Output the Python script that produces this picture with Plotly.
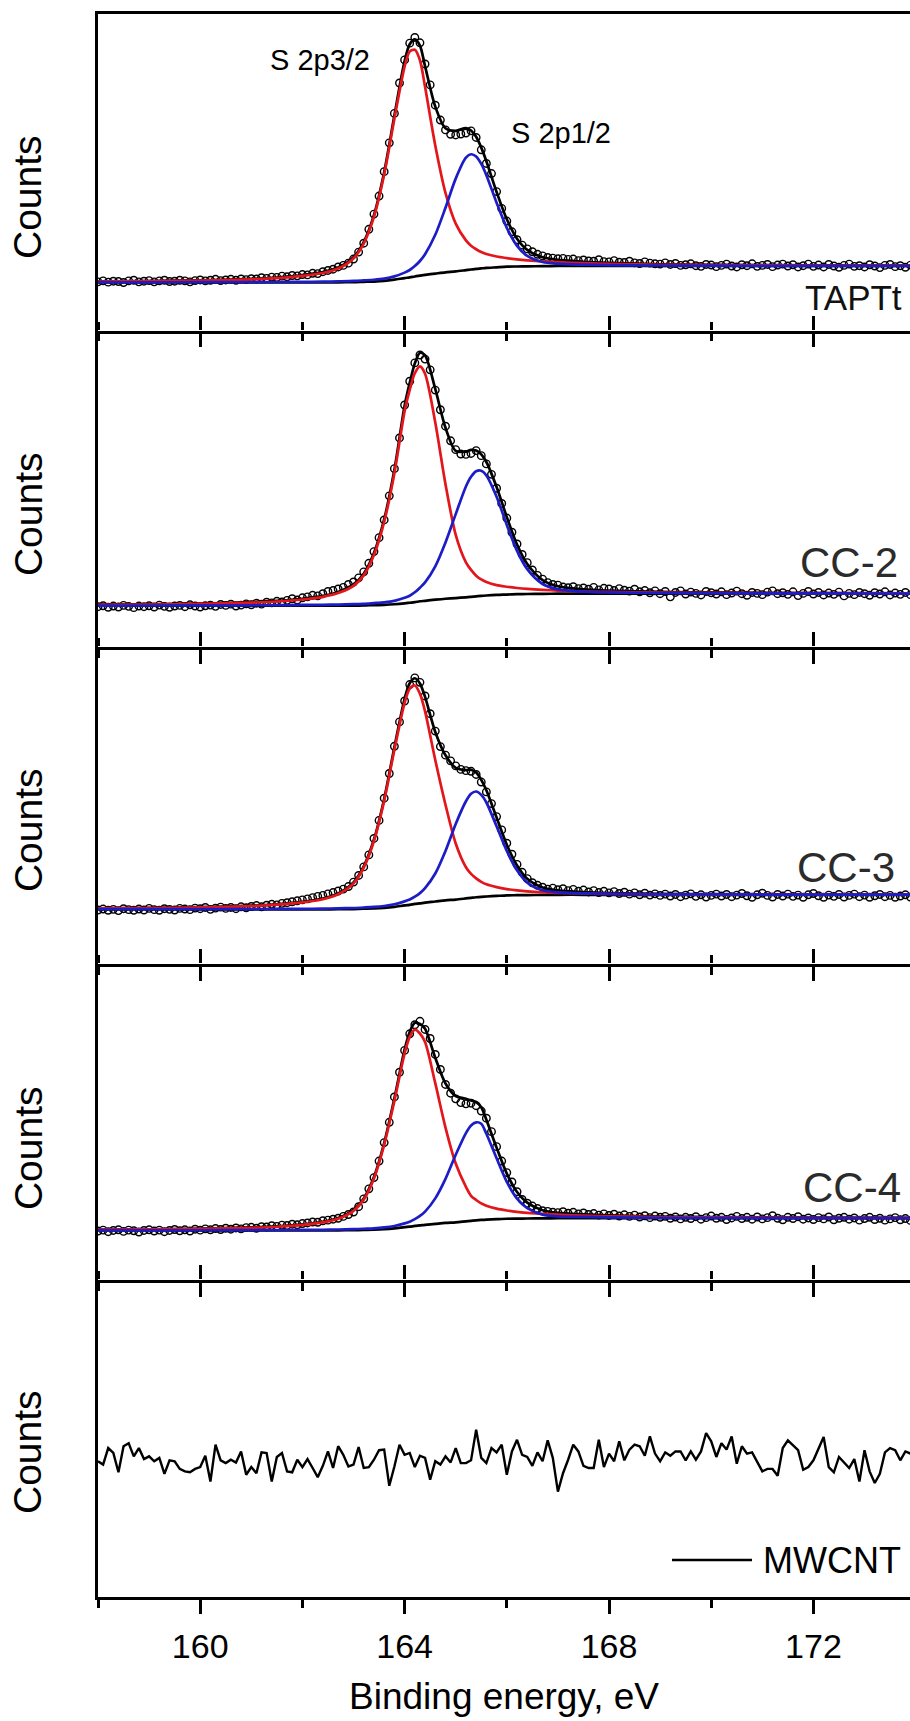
import numpy as np
import plotly.graph_objects as go

FONT = "Liberation Sans, Arial, Helvetica, sans-serif"
RED = "#e3161c"
BLUE = "#1d1dc8"

# ---------------- energy axes ----------------
fit_ev = [158.0, 159.0, 160.0, 161.0, 161.5, 162.0, 162.4, 162.7, 163.0, 163.2,
          163.4, 163.6, 163.8, 164.0, 164.1, 164.2, 164.3, 164.4, 164.6, 164.8,
          165.0, 165.2, 165.3, 165.4, 165.5, 165.6, 165.8, 166.0, 166.2, 166.4,
          166.7, 167.0, 167.5, 168.0, 169.0, 170.0, 172.0, 174.0]
data_ev = np.round(np.arange(1580, 1741) / 10.0, 1)    # 158.0 ... 174.0
mwcnt_ev = np.round(np.arange(1580, 1740) / 10.0, 1)   # 158.0 ... 173.9

# ---------------- TAPTt ----------------
tapt_bg = [15.2, 15.2, 15.2, 15.2, 15.2, 15.2, 15.2, 15.25, 15.3, 15.4,
           15.5, 15.7, 16.1, 16.6, 16.8, 17.1, 17.35, 17.6, 18.0, 18.4,
           18.7, 19.1, 19.3, 19.5, 19.65, 19.8, 20.0, 20.2, 20.25, 20.3,
           20.35, 20.4, 20.4, 20.4, 20.4, 20.4, 20.4, 20.4]
tapt_s32 = [15.5, 15.6, 15.8, 16.2, 16.6, 17.3, 18.2, 19.6, 22.8, 27.5,
            35.9, 49.3, 66.9, 83.4, 88.1, 88.7, 85.4, 77.0, 58.5, 43.5,
            33.8, 28.5, 26.8, 25.7, 24.8, 24.2, 23.4, 22.9, 22.5, 22.2,
            21.85, 21.6, 21.3, 21.1, 20.8, 20.7, 20.55, 20.5]
tapt_s12 = [15.24, 15.26, 15.28, 15.32, 15.35, 15.4, 15.45, 15.56, 15.69, 15.87,
            16.07, 16.43, 17.13, 18.31, 19.14, 20.38, 21.98, 24.13, 30.26, 38.8,
            48.0, 54.6, 55.7, 55.0, 52.65, 49.1, 40.4, 32.46, 26.78, 23.58,
            21.65, 21.13, 20.83, 20.69, 20.56, 20.5, 20.45, 20.43]
tapt_env = [15.54, 15.66, 15.88, 16.32, 16.75, 17.5, 18.45, 19.91, 23.19, 27.97,
            36.47, 50.03, 67.93, 85.11, 90.44, 91.98, 90.03, 83.53, 70.76, 63.9,
            63.1, 64.0, 63.2, 61.2, 57.8, 53.5, 43.8, 35.16, 29.03, 25.48,
            23.15, 22.33, 21.73, 21.39, 20.96, 20.8, 20.6, 20.53]
tapt_counts = [
    15.4, 15.7, 15.3, 15.6, 15.5, 15.2, 15.7, 15.9, 15.4, 15.6,
    15.8, 15.4, 15.7, 15.9, 15.5, 15.6, 15.9, 15.7, 15.4, 15.8,
    16.0, 15.7, 15.9, 16.2, 15.8, 16.0, 16.2, 15.9, 16.3, 16.1,
    16.4, 16.3, 16.7, 16.5, 16.9, 16.8, 17.2, 17.0, 17.4, 17.3,
    17.7, 17.6, 18.1, 18.0, 18.6, 19.0, 19.4, 20.1, 20.6, 21.3,
    22.6, 24.8, 27.6, 32.0, 36.8, 42.5, 50.2, 59.3, 68.6, 78.2,
    85.5, 90.8, 92.6, 90.9, 84.2, 77.6, 71.2, 66.5, 63.4, 62.0,
    61.8, 62.1, 62.4, 63.1, 61.0, 57.1, 52.8, 49.6, 43.9, 38.6,
    34.6, 31.2, 28.7, 27.0, 25.8, 24.9, 24.1, 23.6, 23.1, 22.9,
    22.7, 22.8, 22.5, 22.6, 22.1, 22.3, 22.0, 21.9, 22.4, 21.8,
    21.7, 22.1, 21.6, 21.5, 21.9, 21.4, 21.2, 21.7, 21.3, 21.1,
    21.0, 21.4, 20.9, 21.2, 20.6, 20.8, 21.1, 20.5, 20.3, 20.9,
    20.7, 20.2, 20.6, 21.0, 20.4, 20.1, 20.8, 20.5, 21.1, 20.3,
    20.6, 20.9, 20.2, 20.7, 21.0, 20.4, 20.8, 20.1, 20.5, 21.0,
    20.3, 20.7, 20.1, 20.9, 20.4, 20.0, 20.6, 21.0, 20.3, 20.5,
    20.1, 20.8, 20.4, 19.9, 20.6, 20.9, 20.2, 20.5, 20.0, 20.7,
    20.4]

# ---------------- CC-2 ----------------
cc2_bg = [13.1, 13.1, 13.1, 13.1, 13.1, 13.1, 13.1, 13.1, 13.14, 13.18,
          13.29, 13.37, 13.56, 13.86, 14.05, 14.24, 14.51, 14.66, 15.0, 15.3,
          15.53, 15.76, 15.91, 16.06, 16.22, 16.33, 16.52, 16.63, 16.75, 16.8,
          16.86, 16.9, 16.9, 16.9, 16.9, 16.9, 16.9, 16.9]
cc2_s32 = [13.37, 13.49, 13.68, 14.08, 14.44, 15.07, 15.92, 17.1, 19.37, 22.68,
           29.09, 39.57, 54.96, 74.56, 81.25, 86.54, 88.71, 86.36, 71.0, 51.5,
           35.5, 26.8, 24.4, 22.6, 21.4, 20.6, 19.6, 19.1, 18.7, 18.4,
           18.1, 17.9, 17.6, 17.45, 17.25, 17.15, 17.05, 17.0]
cc2_s12 = [13.15, 13.17, 13.2, 13.24, 13.28, 13.34, 13.4, 13.46, 13.59, 13.7,
           13.93, 14.18, 14.63, 15.59, 16.27, 17.34, 18.8, 20.46, 25.56, 33.1,
           42.03, 50.76, 53.81, 55.56, 55.72, 54.23, 47.52, 38.63, 30.45, 24.66,
           19.96, 18.25, 17.54, 17.32, 17.12, 17.04, 16.97, 16.94]
cc2_env = [13.42, 13.56, 13.78, 14.22, 14.62, 15.31, 16.22, 17.46, 19.82, 23.2,
           29.73, 40.38, 56.03, 76.29, 83.47, 89.64, 93.0, 92.16, 81.56, 69.3,
           62.0, 61.8, 62.3, 62.1, 60.9, 58.5, 50.6, 41.1, 32.4, 26.26,
           21.2, 19.25, 18.24, 17.87, 17.47, 17.29, 17.12, 17.04]
cc2_counts = [
    12.8, 13.1, 12.6, 13.0, 12.7, 13.2, 12.9, 12.5, 13.0, 12.8,
    13.1, 12.7, 13.3, 12.9, 12.6, 13.0, 13.2, 12.8, 13.4, 13.0,
    12.7, 13.1, 13.3, 12.9, 13.5, 13.2, 13.6, 13.0, 13.3, 13.7,
    13.4, 13.9, 13.6, 14.2, 14.0, 14.5, 14.3, 14.8, 15.3, 14.9,
    15.6, 15.9, 16.4, 16.2, 16.9, 17.6, 17.9, 18.4, 18.9, 19.8,
    20.6, 21.9, 23.8, 26.5, 30.2, 34.6, 40.2, 47.8, 56.4, 66.1,
    76.5, 84.0, 89.8, 92.3, 91.0, 87.6, 81.2, 75.0, 69.8, 65.2,
    62.4, 61.0, 60.9, 61.2, 62.1, 60.5, 57.9, 54.6, 50.2, 45.4,
    40.8, 36.3, 32.6, 29.3, 26.7, 24.4, 22.7, 21.5, 20.4, 19.8,
    19.6, 19.0, 18.8, 19.1, 18.5, 18.7, 18.3, 18.9, 18.1, 18.6,
    18.4, 17.9, 18.5, 18.0, 17.7, 18.3, 17.5, 17.9, 17.2, 17.8,
    16.9, 17.6, 15.9, 17.3, 17.8, 16.8, 17.4, 17.0, 16.5, 17.6,
    17.2, 16.8, 17.5, 16.6, 17.1, 17.7, 16.9, 16.4, 17.3, 17.0,
    16.6, 17.4, 17.8, 16.9, 17.2, 16.7, 17.5, 16.3, 17.0, 17.6,
    16.8, 17.3, 16.5, 17.1, 16.7, 17.4, 16.2, 17.0, 16.6, 17.3,
    16.9, 16.4, 17.2, 16.8, 17.5, 16.5, 17.1, 16.7, 17.3, 16.6,
    17.0]

# ---------------- CC-3 ----------------
cc3_bg = [17.2, 17.2, 17.2, 17.2, 17.2, 17.2, 17.2, 17.25, 17.29, 17.38,
          17.48, 17.66, 17.98, 18.44, 18.63, 18.9, 19.09, 19.32, 19.68, 20.05,
          20.28, 20.65, 20.83, 21.02, 21.16, 21.25, 21.43, 21.62, 21.66, 21.71,
          21.75, 21.8, 21.8, 21.8, 21.8, 21.8, 21.8, 21.8]
cc3_s32 = [17.49, 17.61, 17.81, 18.25, 18.68, 19.38, 20.38, 21.95, 25.39, 30.38,
           38.78, 51.46, 67.58, 82.44, 86.93, 87.9, 85.29, 79.72, 64.38, 50.25,
           38.0, 30.5, 28.4, 27.0, 25.9, 25.1, 24.2, 23.6, 23.2, 22.9,
           22.6, 22.4, 22.2, 22.05, 21.95, 21.9, 21.85, 21.82]
cc3_s12 = [17.24, 17.25, 17.27, 17.3, 17.33, 17.37, 17.42, 17.52, 17.63, 17.78,
           17.96, 18.26, 18.8, 19.71, 20.3, 21.2, 22.33, 23.9, 28.53, 35.65,
           44.18, 51.35, 53.73, 54.42, 53.36, 50.95, 43.43, 35.62, 29.51, 25.65,
           23.23, 22.57, 22.22, 22.08, 21.95, 21.9, 21.85, 21.83]
cc3_env = [17.53, 17.66, 17.88, 18.35, 18.81, 19.55, 20.6, 22.22, 25.73, 30.78,
           39.26, 52.06, 68.4, 83.71, 88.6, 90.2, 88.53, 84.3, 73.23, 65.85,
           61.9, 61.2, 61.3, 60.4, 58.1, 54.8, 46.2, 37.6, 31.05, 26.84,
           24.08, 23.17, 22.62, 22.33, 22.1, 22.0, 21.9, 21.85]
cc3_counts = [
    17.0, 17.3, 16.9, 17.2, 16.8, 17.4, 17.1, 16.9, 17.3, 17.0,
    17.5, 17.1, 16.9, 17.4, 17.2, 17.0, 17.5, 17.3, 17.1, 17.6,
    17.4, 17.8, 17.2, 17.6, 17.9, 17.5, 17.8, 17.4, 18.0, 17.7,
    18.1, 18.4, 18.0, 18.5, 18.8, 18.6, 19.1, 19.3, 19.6, 19.9,
    20.2, 20.5, 20.9, 21.3, 21.6, 22.1, 22.5, 23.0, 23.6, 24.4,
    25.8, 27.9, 30.6, 34.4, 39.6, 45.3, 52.3, 60.1, 68.7, 76.4,
    83.0, 88.2, 90.3, 88.9, 84.6, 79.0, 73.5, 68.6, 65.9, 64.1,
    62.5, 61.4, 61.0, 60.8, 59.8, 57.4, 54.3, 50.6, 46.5, 42.3,
    38.1, 34.6, 31.4, 28.9, 26.9, 25.6, 24.8, 24.2, 23.6, 23.9,
    23.4, 23.7, 23.1, 23.5, 22.9, 23.3, 22.7, 23.1, 22.5, 22.9,
    22.4, 22.8, 22.2, 22.6, 22.0, 22.4, 21.8, 22.3, 21.7, 22.1,
    21.6, 22.0, 21.4, 21.9, 21.2, 21.7, 22.1, 21.3, 21.8, 21.1,
    21.6, 22.0, 21.4, 21.9, 21.2, 21.7, 22.2, 21.5, 21.0, 21.8,
    22.3, 21.6, 21.1, 21.9, 21.4, 22.0, 21.3, 21.7, 21.0, 21.8,
    22.2, 21.5, 21.0, 21.7, 21.3, 21.9, 21.1, 21.6, 22.0, 21.2,
    21.7, 21.0, 21.5, 21.9, 21.2, 21.6, 21.0, 21.4, 21.8, 21.1,
    21.5]

# ---------------- CC-4 ----------------
cc4_bg = [14.7, 14.7, 14.7, 14.7, 14.7, 14.7, 14.7, 14.74, 14.78, 14.86,
          14.93, 15.09, 15.36, 15.75, 15.91, 16.14, 16.3, 16.49, 16.81, 17.12,
          17.31, 17.63, 17.78, 17.94, 18.05, 18.13, 18.29, 18.44, 18.48, 18.52,
          18.56, 18.6, 18.6, 18.6, 18.6, 18.6, 18.6, 18.6]
cc4_s32 = [14.94, 15.04, 15.2, 15.56, 15.89, 16.46, 17.27, 18.43, 20.98, 24.56,
           31.33, 42.09, 56.16, 71.35, 76.61, 78.94, 77.7, 74.99, 61.81, 47.62,
           36.11, 28.63, 25.78, 24.44, 23.35, 22.63, 21.69, 21.08, 20.62, 20.32,
           19.97, 19.73, 19.42, 19.23, 19.0, 18.88, 18.75, 18.69]
cc4_s12 = [14.74, 14.75, 14.76, 14.8, 14.83, 14.87, 14.91, 15.0, 15.11, 15.25,
           15.39, 15.67, 16.14, 16.97, 17.51, 18.33, 19.34, 20.72, 24.96, 31.22,
           38.91, 45.83, 48.28, 49.29, 48.85, 45.63, 37.79, 30.24, 24.88, 21.82,
           19.76, 19.2, 19.03, 18.88, 18.76, 18.69, 18.64, 18.62]
cc4_env = [14.98, 15.09, 15.26, 15.66, 16.02, 16.63, 17.48, 18.69, 21.31, 24.95,
           31.79, 42.67, 56.94, 72.57, 78.21, 81.13, 80.74, 79.22, 69.96, 61.72,
           57.71, 56.83, 56.28, 55.79, 54.15, 50.13, 41.19, 32.88, 27.02, 23.62,
           21.17, 20.33, 19.85, 19.51, 19.16, 18.97, 18.79, 18.71]
cc4_counts = [
    14.5, 14.8, 14.3, 14.7, 14.9, 14.4, 14.8, 14.6, 14.2, 14.7,
    14.9, 14.5, 14.8, 14.3, 14.7, 15.0, 14.6, 14.9, 14.5, 15.1,
    14.8, 15.2, 14.9, 15.3, 15.0, 15.4, 15.1, 15.5, 15.2, 15.6,
    15.7, 15.4, 15.9, 15.8, 16.2, 16.0, 16.4, 16.3, 16.7, 16.5,
    16.9, 17.1, 17.4, 17.3, 17.8, 18.0, 18.3, 18.6, 19.2, 19.8,
    20.6, 22.3, 24.8, 28.0, 31.6, 36.9, 42.8, 49.3, 57.4, 65.3,
    72.3, 77.6, 80.5, 81.6, 79.0, 76.1, 71.0, 66.2, 61.4, 58.6,
    56.8, 55.6, 55.2, 55.4, 54.6, 52.9, 50.6, 46.3, 41.5, 36.9,
    33.2, 30.2, 27.1, 24.6, 23.4, 22.5, 21.7, 21.0, 20.8, 20.5,
    20.4, 20.7, 20.2, 20.5, 20.0, 20.3, 19.8, 20.1, 19.6, 20.0,
    19.5, 19.9, 19.3, 19.7, 19.2, 19.6, 19.0, 19.4, 18.8, 19.3,
    18.9, 19.2, 18.6, 19.0, 18.4, 18.9, 18.5, 19.1, 18.3, 18.8,
    19.3, 18.6, 18.9, 18.2, 18.7, 19.2, 18.5, 18.9, 18.3, 19.0,
    18.4, 18.8, 19.4, 18.6, 18.1, 18.9, 18.5, 19.1, 18.3, 18.7,
    18.2, 18.8, 18.4, 19.0, 18.1, 18.6, 18.9, 18.3, 18.7, 18.0,
    18.5, 18.9, 18.2, 18.6, 18.0, 18.4, 18.8, 18.1, 18.5, 17.9,
    18.4]

# ---------------- MWCNT ----------------
mwcnt_counts = [
    39.7, 38.6, 44.0, 42.4, 36.1, 44.6, 45.6, 41.3, 44.0, 40.4,
    41.3, 39.7, 40.8, 35.6, 40.0, 39.7, 37.2, 36.4, 36.1, 37.2,
    37.8, 41.5, 33.1, 45.1, 40.0, 39.1, 40.2, 39.3, 42.9, 35.3,
    37.8, 35.8, 42.6, 42.4, 33.1, 41.1, 42.4, 36.4, 36.1, 40.2,
    37.8, 40.4, 37.5, 34.5, 38.2, 42.9, 37.5, 44.6, 41.8, 38.0,
    38.6, 44.3, 37.5, 37.8, 40.2, 43.3, 43.5, 31.7, 38.0, 45.1,
    41.8, 42.4, 37.8, 41.5, 40.8, 33.7, 39.7, 38.6, 41.3, 39.3,
    44.0, 39.1, 39.1, 40.0, 50.0, 40.8, 39.1, 44.0, 42.6, 45.1,
    35.3, 42.9, 46.7, 41.8, 41.1, 38.2, 42.6, 39.7, 46.5, 40.8,
    29.8, 35.8, 40.2, 45.1, 42.9, 38.2, 37.5, 37.5, 46.7, 37.8,
    42.2, 39.7, 46.2, 40.0, 43.5, 45.1, 44.6, 41.5, 47.8, 42.2,
    39.7, 42.6, 41.5, 42.9, 42.9, 40.0, 42.9, 40.2, 42.9, 48.9,
    46.2, 41.1, 45.6, 43.5, 47.8, 38.9, 44.6, 42.2, 42.6, 39.3,
    36.4, 37.2, 37.2, 35.0, 44.0, 46.5, 44.8, 43.3, 36.9, 37.8,
    40.0, 43.7, 47.6, 37.8, 36.1, 41.1, 39.3, 37.5, 40.4, 33.1,
    43.3, 36.4, 32.6, 35.6, 42.6, 44.0, 43.3, 40.0, 42.9, 42.2]

panels = [
    dict(counts=tapt_counts, bg=tapt_bg, env=tapt_env, s32=tapt_s32, s12=tapt_s12, yr=[0, 100]),
    dict(counts=cc2_counts, bg=cc2_bg, env=cc2_env, s32=cc2_s32, s12=cc2_s12, yr=[0, 100]),
    dict(counts=cc3_counts, bg=cc3_bg, env=cc3_env, s32=cc3_s32, s12=cc3_s12, yr=[0, 100]),
    dict(counts=cc4_counts, bg=cc4_bg, env=cc4_env, s32=cc4_s32, s12=cc4_s12, yr=[-1.28, 100]),
]
mwcnt_yr = [-4.58, 98.69]
domains = [[0.8, 1.0], [0.6, 0.8], [0.4, 0.6], [0.2, 0.4], [0.0, 0.2]]
XR = [158, 173.89]

fig = go.Figure()
for i, p in enumerate(panels):
    n = "" if i == 0 else str(i + 1)
    xa, ya = "x" + n, "y" + n
    fig.add_trace(go.Scatter(
        x=data_ev, y=p["counts"], mode="markers", xaxis=xa, yaxis=ya,
        marker=dict(symbol="circle-open", size=7.5, color="black",
                    line=dict(width=1.4, color="black")),
        showlegend=False))
    for ys, col in [(p["bg"], "black"), (p["env"], "black"),
                    (p["s32"], RED), (p["s12"], BLUE)]:
        fig.add_trace(go.Scatter(
            x=fit_ev, y=ys, mode="lines", xaxis=xa, yaxis=ya,
            line=dict(color=col, width=2.7, shape="spline", smoothing=0.8),
            showlegend=False))

fig.add_trace(go.Scatter(
    x=mwcnt_ev, y=mwcnt_counts, mode="lines", xaxis="x5", yaxis="y5",
    line=dict(color="black", width=2.4), name="MWCNT", showlegend=False))

# empty traces so the top tick-only axes of panels 2-5 get drawn
for k in range(2, 6):
    fig.add_trace(go.Scatter(x=[None], y=[None], mode="lines",
                             xaxis="x" + str(k + 4), yaxis="y" + str(k),
                             showlegend=False, hoverinfo="skip"))

layout = dict(
    width=910, height=1721,
    margin=dict(l=98, r=0, t=14, b=124),
    plot_bgcolor="white", paper_bgcolor="white",
    showlegend=False,
    font=dict(family=FONT, color="black"),
)
tick_common = dict(
    ticks="outside", ticklen=14, tickwidth=2.5, tickcolor="black",
    tick0=160, dtick=4,
    minor=dict(ticks="outside", ticklen=8, tickwidth=2.5,
               tickcolor="black", tick0=158, dtick=2, showgrid=False),
    showgrid=False, zeroline=False,
)
yranges = [p["yr"] for p in panels] + [mwcnt_yr]
for i in range(5):
    n = "" if i == 0 else str(i + 1)
    layout["xaxis" + n] = dict(
        domain=[0, 1], anchor="y" + n, range=XR,
        showline=True, linecolor="black", linewidth=2.5,
        mirror=(i == 0),
        showticklabels=(i == 4),
        tickfont=dict(size=34, family=FONT, color="black"),
        ticklabelstandoff=3,
        **tick_common,
    )
    layout["yaxis" + n] = dict(
        domain=domains[i], anchor="x" + n, range=yranges[i],
        showline=True, linecolor="black", linewidth=2.5, mirror=False,
        ticks="", showticklabels=False, showgrid=False, zeroline=False,
    )
# tick marks (no line) on top edge of panels 2-5, pointing up
for k in range(2, 6):
    layout["xaxis" + str(k + 4)] = dict(
        overlaying="x" + str(k), anchor="y" + str(k), side="top", range=XR,
        showline=False, showticklabels=False, **tick_common,
    )
layout["xaxis5"]["title"] = dict(text="Binding energy, eV",
                                 font=dict(size=37, family=FONT, color="black"),
                                 standoff=20)
fig.update_layout(**layout)

# ---------------- text ----------------
counts_y = [0.8844, 0.6841, 0.4845, 0.2836, 0.0916]
for yy in counts_y:
    fig.add_annotation(text="Counts", xref="paper", yref="paper", x=-0.0862, y=yy,
                       textangle=-90, showarrow=False, xanchor="center", yanchor="middle",
                       font=dict(size=39, family=FONT, color="black"))

labels = [
    ("S 2p3/2", 0.274, 0.9709, "center", 29, "black"),
    ("S 2p1/2", 0.5696, 0.9251, "center", 29, "black"),
    ("TAPTt", 0.9925, 0.8209, "right", 35, "#111111"),
    ("CC-2", 0.9875, 0.6538, "right", 42, "#2b2b2b"),
    ("CC-3", 0.9840, 0.4608, "right", 42, "#2b2b2b"),
    ("CC-4", 0.9912, 0.2584, "right", 42, "#2b2b2b"),
    ("MWCNT", 0.817, 0.0231, "left", 36, "black"),
]
for txt, x, y, xa, sz, col in labels:
    fig.add_annotation(text=txt, xref="paper", yref="paper", x=x, y=y,
                       showarrow=False, xanchor=xa, yanchor="middle",
                       font=dict(size=sz, family=FONT, color=col))

# legend sample line for MWCNT
fig.add_shape(type="line", xref="paper", yref="paper",
              x0=0.7069, x1=0.8054, y0=0.0234, y1=0.0234,
              line=dict(color="black", width=2.4))

fig.write_html("out.html")
